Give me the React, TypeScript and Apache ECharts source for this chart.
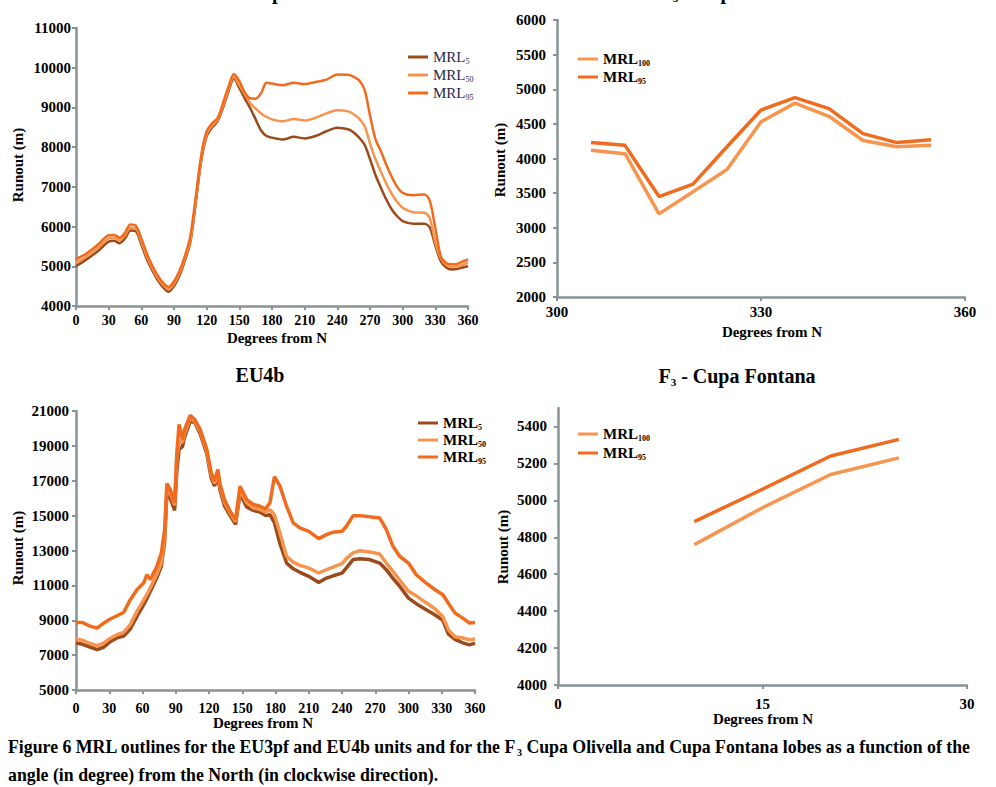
import React, { useEffect, useRef } from 'react';
import * as echarts from 'echarts';

// ---------- EU3pf ----------
const eu3Angles = [0, 10, 20, 30, 35, 40, 45, 50, 55, 60, 65, 70, 75, 80, 85, 90, 95, 100, 105, 110, 115, 120, 125, 130, 135, 140, 145, 150, 155, 160, 165, 170, 175, 180, 190, 200, 210, 220, 230, 240, 250, 255, 260, 265, 270, 275, 280, 285, 290, 295, 300, 310, 320, 325, 330, 335, 340, 345, 350, 355, 360];
const eu3Mrl5 = [5000, 5180, 5380, 5620, 5640, 5580, 5700, 5900, 5880, 5550, 5180, 4900, 4650, 4470, 4360, 4500, 4760, 5150, 5600, 6600, 7650, 8280, 8500, 8650, 8990, 9400, 9720, 9490, 9230, 8980, 8700, 8420, 8280, 8240, 8190, 8260, 8220, 8280, 8400, 8490, 8450, 8370, 8240, 8060, 7700, 7300, 6980, 6680, 6430, 6260, 6140, 6070, 6070, 5970, 5520, 5130, 4970, 4920, 4930, 4970, 5000];
const eu3Mrl50 = [5080, 5260, 5460, 5700, 5720, 5660, 5780, 5970, 5950, 5620, 5250, 4960, 4710, 4530, 4420, 4560, 4820, 5200, 5650, 6650, 7700, 8330, 8540, 8680, 9040, 9450, 9770, 9560, 9330, 9110, 8970, 8850, 8760, 8700, 8650, 8710, 8670, 8740, 8850, 8930, 8900, 8830, 8720, 8530, 8100, 7700, 7380, 7080, 6820, 6620, 6470, 6360, 6350, 6200, 5600, 5200, 5040, 4990, 5000, 5040, 5090];
const eu3Mrl95 = [5180, 5330, 5540, 5780, 5790, 5720, 5850, 6050, 6020, 5700, 5330, 5020, 4770, 4580, 4480, 4620, 4880, 5260, 5760, 6750, 7800, 8400, 8600, 8730, 9110, 9520, 9840, 9660, 9380, 9230, 9220, 9360, 9620, 9600, 9560, 9620, 9590, 9640, 9700, 9830, 9820, 9770, 9680, 9450, 8800, 8200, 7900, 7550, 7250, 7000, 6850, 6790, 6810, 6640, 5960, 5250, 5080, 5050, 5060, 5120, 5170];

// ---------- EU4b ----------
const eu4Angles = [0, 6, 12, 19, 25, 31, 37, 43, 49, 55, 61, 64, 67, 73, 77, 80, 82, 85, 89, 91, 93, 96, 98, 103, 107, 112, 118, 122, 125, 128, 130, 134, 139, 144, 148, 154, 160, 166, 171, 175, 179, 184, 190, 196, 202, 210, 219, 226, 232, 240, 244, 250, 256, 265, 274, 280, 286, 292, 300, 307, 316, 324, 331, 336, 342, 349, 355, 360];
const eu4Mrl5 = [7690, 7620, 7480, 7320, 7450, 7780, 7990, 8090, 8500, 9220, 9880, 10250, 10650, 11450, 12100, 13500, 16200, 16000, 15300, 17600, 18800, 18950, 19500, 20400, 20350, 19700, 18550, 17150, 16700, 17200, 16450, 15550, 15000, 14500, 16250, 15500, 15300, 15200, 15000, 15060, 14600, 13400, 12280, 11950, 11750, 11520, 11170, 11420, 11550, 11700, 12000, 12480, 12530, 12480, 12280, 11900, 11400, 10950, 10270, 9950, 9600, 9300, 9000, 8200, 7900, 7700, 7590, 7690];
const eu4Mrl50 = [7920, 7850, 7680, 7540, 7690, 7970, 8170, 8300, 8750, 9510, 10150, 10480, 10850, 11650, 12300, 13800, 16600, 16300, 15600, 18300, 19300, 19200, 19700, 20600, 20400, 19850, 18700, 17350, 16850, 17450, 16650, 15750, 15150, 14650, 16450, 15750, 15450, 15350, 15200, 15350, 15050, 14000, 12670, 12330, 12150, 12000, 11710, 11900, 12050, 12250, 12550, 12860, 12990, 12920, 12800, 12280, 11800, 11300, 10660, 10400, 10000, 9650, 9200, 8450, 8050, 7980, 7880, 7920];
const eu4Mrl95 = [8870, 8870, 8680, 8550, 8840, 9070, 9260, 9450, 10180, 10750, 11130, 11610, 11330, 12090, 12860, 14200, 16840, 16500, 15730, 18600, 20230, 19370, 19950, 20750, 20520, 19950, 18800, 17460, 16980, 17650, 16790, 15920, 15250, 14770, 16690, 15920, 15640, 15540, 15390, 15730, 17230, 16690, 15540, 14580, 14300, 14100, 13680, 13910, 14050, 14100, 14390, 15000, 15000, 14930, 14870, 14200, 13240, 12670, 12280, 11610, 11130, 10750, 10460, 9980, 9410, 9120, 8840, 8870];

// ---------- F3 - Cupa Olivella ----------
const olivAngles = [305, 310, 315, 320, 325, 330, 335, 340, 345, 350, 355];
const olivLow = [4120, 4070, 3200, 3520, 3840, 4530, 4800, 4610, 4260, 4170, 4190];
const olivHigh = [4230, 4190, 3450, 3630, 4170, 4700, 4880, 4720, 4360, 4230, 4270];

// ---------- F3 - Cupa Fontana ----------
const fontAngles = [10, 15, 20, 25];
const fontLow = [4760, 4960, 5140, 5230];
const fontHigh = [4885, 5060, 5240, 5330];

// tick settings
const eu3YTicks = { min: 4000, max: 11000, interval: 1000 };
const eu4YTicks = { min: 5000, max: 21000, interval: 2000 };
const olivYTicks = { min: 2000, max: 6000, interval: 500 };
const fontYTicks = { min: 4000, max: 5500, interval: 200 };

const SERIF = '"Liberation Serif", "DejaVu Serif", serif';
const C5 = '#9b4a1c';
const C50 = '#f7954e';
const C95 = '#f06b1d';
const AXIS = '#879395';

const pairs = (xs: number[], ys: number[]) => xs.map((x, i) => [x, ys[i]]);

const subLabel: Record<string, string> = {
  a5: '5', a50: '50', a95: '95',
  b5: '5', b50: '50', b95: '95',
  cLo: '100', cHi: '95',
  dLo: '100', dHi: '95',
};

const plain = (v: number) => String(v);

function makeX(grid: number, min: number, max: number, interval: number, fs: number, margin: number) {
  return {
    type: 'value', gridIndex: grid, min, max, interval,
    axisLine: { show: true, lineStyle: { color: AXIS, width: 2.5 } },
    axisTick: { show: true, length: 4, lineStyle: { color: AXIS, width: 2 } },
    splitLine: { show: false },
    axisLabel: { fontFamily: SERIF, fontWeight: 'bold', fontSize: fs, color: '#000', margin, formatter: plain },
  };
}
function makeY(grid: number, t: { min: number; max: number; interval: number }, fs: number, margin: number, hideMax = false) {
  return {
    type: 'value', gridIndex: grid, min: t.min, max: t.max, interval: t.interval,
    axisLine: { show: true, lineStyle: { color: AXIS, width: 2.5 } },
    axisTick: { show: true, length: 4, lineStyle: { color: AXIS, width: 2 } },
    splitLine: { show: false },
    axisLabel: { fontFamily: SERIF, fontWeight: 'bold', fontSize: fs, color: '#000', margin, showMaxLabel: !hideMax, formatter: plain },
  };
}
function line(name: string, grid: number, data: number[][], color: string, width: number, smooth: boolean | number) {
  return {
    type: 'line', name, xAxisIndex: grid, yAxisIndex: grid, data, smooth,
    showSymbol: false, symbol: 'none',
    lineStyle: { color, width }, itemStyle: { color },
  };
}
function legend(names: string[], left: number, top: number, gap: number, bold: boolean, color: string) {
  return {
    data: names, left, top, orient: 'vertical', icon: 'rect', itemWidth: 20, itemHeight: 3, itemGap: gap,
    selectedMode: false,
    formatter: (n: string) => `{m|MRL}{s|${subLabel[n]}}`,
    textStyle: {
      rich: {
        m: { fontFamily: SERIF, fontSize: 15, fontWeight: bold ? 'bold' : 'normal', color, lineHeight: 16 },
        s: { fontFamily: SERIF, fontSize: 8, fontWeight: bold ? 'bold' : 'normal', color, lineHeight: 16, padding: [8, 0, 0, 0] },
      },
    },
  };
}
function txt(x: number, y: number, text: string, fs: number, rot = 0, extra: any = {}) {
  return {
    type: 'text', x, y, rotation: rot, silent: true,
    style: {
      text, fontFamily: SERIF, fontWeight: 'bold', fontSize: fs, fill: '#000',
      align: 'center', verticalAlign: 'middle', ...extra,
    },
  };
}

export default function App() {
  const ref = useRef<HTMLDivElement>(null);
  useEffect(() => {
    const chart = echarts.init(ref.current!, null, { renderer: 'svg' });
    const richTitle = {
      t: { fontFamily: SERIF, fontWeight: 'bold', fontSize: 20, fill: '#000' },
      s: { fontFamily: SERIF, fontWeight: 'bold', fontSize: 11, fill: '#000', padding: [12, 0, 0, 0] },
    };
    const option: any = {
      animation: false,
      backgroundColor: '#fff',
      grid: [
        { left: 76, top: 28, width: 392, height: 278 },
        { left: 76, top: 411, width: 399, height: 279 },
        { left: 557, top: 20, width: 408, height: 277 },
        { left: 558, top: 408, width: 409, height: 277 },
      ],
      xAxis: [
        makeX(0, 0, 360, 30, 14, 7),
        makeX(1, 0, 360, 30, 14, 11),
        makeX(2, 300, 360, 30, 15, 7),
        makeX(3, 0, 30, 15, 15, 11),
      ],
      yAxis: [
        makeY(0, eu3YTicks, 15, 5),
        makeY(1, eu4YTicks, 15, 7),
        makeY(2, olivYTicks, 15, 11),
        makeY(3, fontYTicks, 15, 11, true),
      ],
      legend: [
        legend(['a5', 'a50', 'a95'], 403, 44, 2, false, '#27264f'),
        legend(['b5', 'b50', 'b95'], 413, 410, 1, true, '#000'),
        legend(['cLo', 'cHi'], 573, 46, 2, true, '#000'),
        legend(['dLo', 'dHi'], 573, 421, 3, true, '#000'),
      ],
      series: [
        line('a5', 0, pairs(eu3Angles, eu3Mrl5), C5, 2.5, 0.3),
        line('a50', 0, pairs(eu3Angles, eu3Mrl50), C50, 2.5, 0.3),
        line('a95', 0, pairs(eu3Angles, eu3Mrl95), C95, 2.5, 0.3),
        line('b5', 1, pairs(eu4Angles, eu4Mrl5), C5, 3.5, false),
        line('b50', 1, pairs(eu4Angles, eu4Mrl50), C50, 3.5, false),
        line('b95', 1, pairs(eu4Angles, eu4Mrl95), C95, 3.5, false),
        line('cLo', 2, pairs(olivAngles, olivLow), C50, 3.5, false),
        line('cHi', 2, pairs(olivAngles, olivHigh), C95, 3.5, false),
        line('dLo', 3, pairs(fontAngles, fontLow), C50, 3.5, false),
        line('dHi', 3, pairs(fontAngles, fontHigh), C95, 3.5, false),
      ],
      graphic: [
        // titles (the top two are cut by the page edge, as in the reference)
        { type: 'text', x: 262, y: -8, silent: true, style: { text: '{t|EU3pf}', rich: richTitle, align: 'center', verticalAlign: 'middle' } },
        { type: 'text', x: 737, y: -8, silent: true, style: { text: '{t|F}{s|3}{t| - Cupa Olivella}', rich: richTitle, align: 'center', verticalAlign: 'middle' } },
        { type: 'text', x: 260, y: 375, silent: true, style: { text: '{t|EU4b}', rich: richTitle, align: 'center', verticalAlign: 'middle' } },
        { type: 'text', x: 737, y: 376, silent: true, style: { text: '{t|F}{s|3}{t| - Cupa Fontana}', rich: richTitle, align: 'center', verticalAlign: 'middle' } },
        // x axis names
        txt(277, 338, 'Degrees from N', 15),
        txt(263, 723, 'Degrees from N', 15),
        txt(772, 332, 'Degrees from N', 15),
        txt(763, 719, 'Degrees from N', 15),
        // y axis names
        txt(18, 165, 'Runout (m)', 15, Math.PI / 2),
        txt(18, 548, 'Runout (m)', 15, Math.PI / 2),
        txt(500, 160, 'Runout (m)', 15, Math.PI / 2),
        txt(503, 547, 'Runout (m)', 15, Math.PI / 2),
        // caption
        {
          type: 'text', x: 8, y: 747, silent: true,
          style: {
            text: '{c|Figure 6 MRL outlines for the EU3pf and EU4b units and for the F}{s|3}{c| Cupa Olivella and Cupa Fontana lobes as a function of the}',
            align: 'left', verticalAlign: 'middle',
            rich: {
              c: { fontFamily: SERIF, fontWeight: 'bold', fontSize: 17.8, fill: '#000' },
              s: { fontFamily: SERIF, fontWeight: 'bold', fontSize: 10, fill: '#000', padding: [10, 0, 0, 0] },
            },
          },
        },
        {
          type: 'text', x: 8, y: 775, silent: true,
          style: {
            text: 'angle (in degree) from the North (in clockwise direction).',
            fontFamily: SERIF, fontWeight: 'bold', fontSize: 17.8, fill: '#000',
            align: 'left', verticalAlign: 'middle',
          },
        },
      ],
    };
    chart.setOption(option);
    return () => chart.dispose();
  }, []);
  return (
    <div
      ref={ref}
      style={{ position: 'absolute', left: 0, top: 0, width: 996, height: 787, background: '#fff' }}
    />
  );
}
